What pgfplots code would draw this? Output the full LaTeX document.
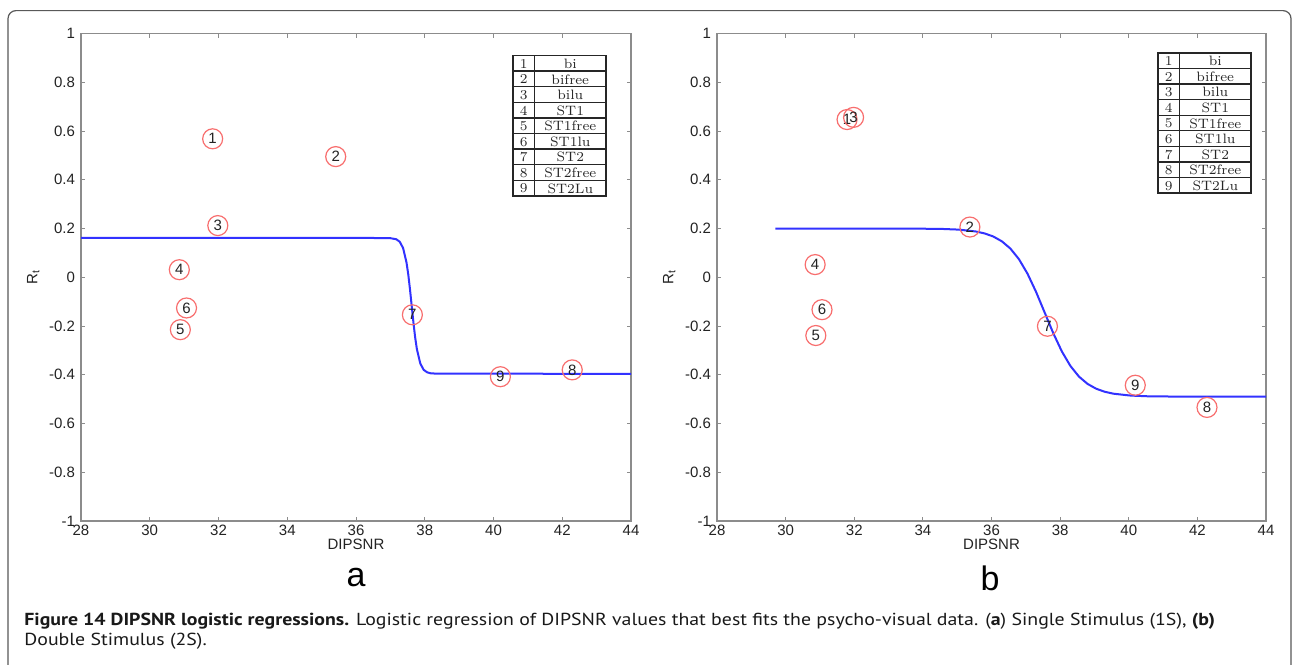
\documentclass[border=0pt]{standalone}
\usepackage{pgfplots}
\usepackage{pgfplotstable}
\pgfplotsset{compat=1.18}
\usepackage{fontspec}
\newfontfamily\arial{Liberation Sans}
\newfontfamily\capfont{PT Sans}[FakeStretch=1.14]
\definecolor{circred}{RGB}{248,110,110}
\definecolor{curveblue}{RGB}{50,50,255}
\definecolor{axgray}{RGB}{140,140,140}
\definecolor{txt}{RGB}{35,35,35}

\pgfplotstableread{
x y lab
31.83 0.568 1
35.41 0.495 2
31.98 0.212 3
30.86 0.031 4
30.89 -0.215 5
31.07 -0.126 6
37.64 -0.154 7
42.29 -0.380 8
40.20 -0.408 9
}\ptsA
\pgfplotstableread{
x y lab
31.79 0.647 1
35.37 0.206 2
31.98 0.656 3
30.86 0.052 4
30.88 -0.239 5
31.06 -0.133 6
37.63 -0.201 7
42.28 -0.534 8
40.19 -0.443 9
}\ptsB
\pgfplotstableread{
x y
28 0.162
36.97 0.161
37.17 0.156
37.27 0.146
37.37 0.120
37.47 0.060
37.52 0.012
37.57 -0.049
37.62 -0.117
37.67 -0.185
37.72 -0.246
37.77 -0.294
37.87 -0.354
37.97 -0.380
38.07 -0.390
38.17 -0.394
38.37 -0.3957
44 -0.396
}\curveA
\pgfplotstableread{
x y
29.70 0.200
33.55 0.1998
34.55 0.1983
35.05 0.1954
35.55 0.1876
35.80 0.1798
36.05 0.1673
36.30 0.1476
36.55 0.1178
36.80 0.0741
37.05 0.0144
37.30 -0.0605
37.55 -0.145
37.80 -0.2295
38.05 -0.3044
38.30 -0.3641
38.55 -0.4078
38.80 -0.4376
39.05 -0.4573
39.30 -0.4698
39.55 -0.4776
40.05 -0.4854
40.55 -0.4883
41.55 -0.4898
44 -0.490
}\curveB

\pgfplotsset{
  dipstyle/.style={
    scale only axis,
    anchor=south west,
    height=243.75pt,
    xmin=28, xmax=44, ymin=-1, ymax=1,
    xtick={28,30,32,34,36,38,40,42,44},
    ytick={-1,-0.8,-0.6,-0.4,-0.2,0,0.2,0.4,0.6,0.8,1},
    tick align=inside,
    major tick length=2pt,
    axis line style={axgray, line width=0.6pt},
    tick style={axgray, line width=0.5pt},
    /pgf/number format/assume math mode=true,
    tick label style={font=\arial\fontsize{7.5}{8.5}\selectfont, text=txt},
    xticklabel style={yshift=1.5pt},
    yticklabel style={xshift=0.5pt},
    xlabel={DIPSNR},
    ylabel={R\textsubscript{t}},
    label style={font=\arial\fontsize{7.5}{8.5}\selectfont, text=txt},
    xlabel style={yshift=5pt},
    ylabel style={yshift=-2pt},
    clip=false,
  },
  ptstyle/.style={
    only marks, mark=o, mark size=5pt,
    mark options={draw=circred, line width=0.6pt},
    point meta=explicit symbolic,
    nodes near coords,
    every node near coord/.append style={anchor=center, inner sep=0pt,
      font=\arial\fontsize{7.5}{8.5}\selectfont, text=txt},
  },
  curvestyle/.style={no marks, curveblue, line width=1pt},
}

\newcommand{\legtable}[2]{%
  \begin{scope}[x=0.5pt,y=-0.5pt,shift={(#1,#2)}]
    \fill[white] (0,0) rectangle (93,140.4);
    \foreach \i in {1,...,8} \draw[line width=0.65pt, black!85] (0,\i*15.6) -- (93,\i*15.6);
    \draw[line width=0.75pt, black!85] (0,0) rectangle (93,140.4);
    \draw[line width=0.75pt, black!85] (21.6,0) -- (21.6,140.4);
    \foreach \n/\t [count=\i] in {1/bi,2/bifree,3/bilu,4/ST1,5/ST1free,6/ST1lu,7/ST2,8/ST2free,9/ST2Lu}{
      \node[font=\fontsize{6.8}{7.5}\selectfont, inner sep=0pt, text=black!85] at (10.8,\i*15.6-7.4) {\n};
      \node[font=\fontsize{6.8}{7.5}\selectfont, inner sep=0pt, text=black!85] at (57.3,\i*15.6-7.4) {\t};
    }
  \end{scope}}

\begin{document}
\begin{tikzpicture}
\useasboundingbox (0,0) rectangle (647pt,-332pt);
\fill[white] (0,0) rectangle (647pt,-332pt);
\draw[rounded corners=4pt, black!65, line width=0.6pt] (4pt,-345pt) -- (4pt,-5.3pt) -- (645.5pt,-5.3pt) -- (645.5pt,-345pt);

\begin{axis}[dipstyle, at={(40.5pt,-260.5pt)}, width=275pt]
  \addplot[curvestyle] table[x=x,y=y] {\curveA};
  \addplot[ptstyle] table[x=x,y=y,meta=lab] {\ptsA};
\end{axis}

\begin{axis}[dipstyle, at={(358.5pt,-260.5pt)}, width=274.5pt]
  \addplot[curvestyle] table[x=x,y=y] {\curveB};
  \addplot[ptstyle] table[x=x,y=y,meta=lab] {\ptsB};
\end{axis}

\legtable{513}{55.5}
\legtable{1158}{52.8}

\node[font=\arial\fontsize{17}{20}\selectfont, text=black] at (178pt,-289pt) {a};
\node[font=\arial\fontsize{17}{20}\selectfont, text=black] at (495pt,-289pt) {b};

\node[anchor=base west, inner sep=0pt, font=\capfont\fontsize{8.7}{10}\selectfont, text=black!90] at (12pt,-312.5pt)
  {\textbf{Figure 14 DIPSNR logistic regressions.} Logistic regression of DIPSNR values that best fits the psycho-visual data. (\textbf{a}) Single Stimulus (1S), \textbf{(b)}};
\node[anchor=base west, inner sep=0pt, font=\capfont\fontsize{8.7}{10}\selectfont, text=black!90] at (12pt,-322.8pt)
  {Double Stimulus (2S).};
\end{tikzpicture}
\end{document}
